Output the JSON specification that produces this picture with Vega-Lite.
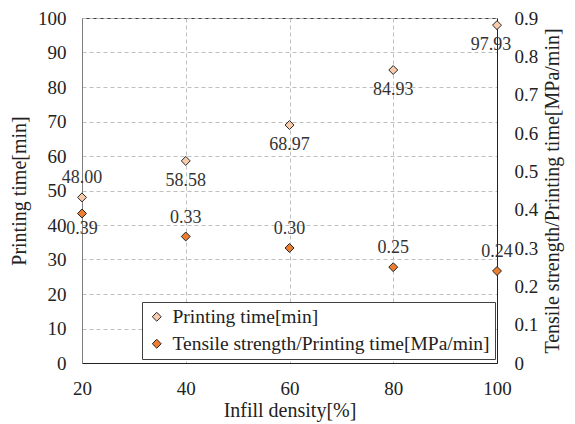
{
  "$schema": "https://vega.github.io/schema/vega-lite/v6.json",
  "width": 415,
  "height": 345,
  "autosize": {"type": "none"},
  "padding": {"left": 82, "top": 18, "right": 78, "bottom": 61},
  "background": "white",
  "config": {
    "font": "Liberation Serif",
    "view": {"stroke": "#404040", "strokeWidth": 1},
    "text": {"font": "Liberation Serif"},
    "axis": {
      "labelFont": "Liberation Serif",
      "titleFont": "Liberation Serif",
      "labelFontSize": 19,
      "titleFontSize": 20,
      "titleFontWeight": "normal",
      "labelColor": "#222",
      "titleColor": "#222",
      "ticks": false,
      "domainColor": "#595959",
      "gridColor": "#bfbfbf",
      "gridDash": [4, 3]
    }
  },
  "data": {
    "values": [
      {"density": 20, "series": "Printing time[min]", "value": 48.00},
      {"density": 40, "series": "Printing time[min]", "value": 58.58},
      {"density": 60, "series": "Printing time[min]", "value": 68.97},
      {"density": 80, "series": "Printing time[min]", "value": 84.93},
      {"density": 100, "series": "Printing time[min]", "value": 97.93},
      {"density": 20, "series": "Tensile strength/Printing time[MPa/min]", "value": 0.39},
      {"density": 40, "series": "Tensile strength/Printing time[MPa/min]", "value": 0.33},
      {"density": 60, "series": "Tensile strength/Printing time[MPa/min]", "value": 0.30},
      {"density": 80, "series": "Tensile strength/Printing time[MPa/min]", "value": 0.25},
      {"density": 100, "series": "Tensile strength/Printing time[MPa/min]", "value": 0.24}
    ]
  },
  "encoding": {
    "x": {
      "field": "density",
      "type": "quantitative",
      "scale": {"domain": [20, 100], "nice": false},
      "axis": {
        "title": "Infill density[%]",
        "values": [20, 40, 60, 80, 100],
        "labelFlush": false,
        "labelPadding": 16,
        "titlePadding": 2,
        "domainColor": "#222"
      }
    }
  },
  "layer": [
    {
      "transform": [{"filter": "datum.series == 'Printing time[min]'"}],
      "encoding": {
        "y": {
          "field": "value",
          "type": "quantitative",
          "scale": {"domain": [0, 100], "nice": false},
          "axis": {
            "title": "Printing time[min]",
            "values": [0, 10, 20, 30, 40, 50, 60, 70, 80, 90, 100],
            "labelPadding": 16,
            "titlePadding": 8,
            "labelFlush": false,
            "domainColor": "#7f7f7f",
            "orient": "left"
          }
        }
      },
      "layer": [
        {
          "mark": {"type": "point", "shape": "diamond", "filled": true, "size": 80, "stroke": "#262626", "strokeWidth": 1, "opacity": 1},
          "encoding": {
            "fill": {
              "field": "series",
              "type": "nominal",
              "scale": {
                "domain": ["Printing time[min]", "Tensile strength/Printing time[MPa/min]"],
                "range": ["#F8CBAD", "#ED7D31"]
              },
              "legend": {
                "title": null,
                "orient": "none",
                "legendX": 60,
                "legendY": 284,
                "symbolType": "diamond",
                "symbolSize": 80,
                "symbolStrokeColor": "#262626",
                "symbolStrokeWidth": 1,
                "symbolOpacity": 1,
                "labelFont": "Liberation Serif",
                "labelFontSize": 19.5,
                "labelColor": "#222",
                "labelLimit": 400,
                "rowPadding": 6,
                "padding": 5,
                "strokeColor": "#404040",
                "fillColor": "white",
                "labelOffset": 6
              }
            }
          }
        },
        {
          "transform": [{"filter": "datum.density == 20"}],
          "mark": {"type": "text", "fontSize": 18, "dy": -19, "color": "#333"},
          "encoding": {"text": {"field": "value", "type": "quantitative", "format": ".2f"}}
        },
        {
          "transform": [{"filter": "datum.density != 20 && datum.density != 100"}],
          "mark": {"type": "text", "fontSize": 18, "dy": 20, "color": "#333"},
          "encoding": {"text": {"field": "value", "type": "quantitative", "format": ".2f"}}
        },
        {
          "transform": [{"filter": "datum.density == 100"}],
          "mark": {"type": "text", "fontSize": 18, "dy": 20, "dx": -6, "color": "#333"},
          "encoding": {"text": {"field": "value", "type": "quantitative", "format": ".2f"}}
        }
      ]
    },
    {
      "transform": [{"filter": "datum.series != 'Printing time[min]'"}],
      "encoding": {
        "y": {
          "field": "value",
          "type": "quantitative",
          "scale": {"domain": [0, 0.9], "nice": false},
          "axis": {
            "title": "Tensile strength/Printing time[MPa/min]",
            "orient": "right",
            "values": [0, 0.1, 0.2, 0.3, 0.4, 0.5, 0.6, 0.7, 0.8, 0.9],
            "labelExpr": "datum.value == 0 ? '0' : format(datum.value, '.1f')",
            "labelPadding": 17,
            "labelFlush": false,
            "titlePadding": 5,
            "titleAngle": 270,
            "titleBaseline": "top",
            "grid": false,
            "domainColor": "#222"
          }
        }
      },
      "layer": [
        {
          "mark": {"type": "point", "shape": "diamond", "filled": true, "size": 80, "stroke": "#262626", "strokeWidth": 1, "opacity": 1},
          "encoding": {
            "fill": {"field": "series", "type": "nominal"}
          }
        },
        {
          "transform": [{"filter": "datum.density == 20"}],
          "mark": {"type": "text", "fontSize": 18, "dy": 15, "color": "#333"},
          "encoding": {"text": {"field": "value", "type": "quantitative", "format": ".2f"}}
        },
        {
          "transform": [{"filter": "datum.density != 20"}],
          "mark": {"type": "text", "fontSize": 18, "dy": -19, "color": "#333"},
          "encoding": {"text": {"field": "value", "type": "quantitative", "format": ".2f"}}
        }
      ]
    }
  ],
  "resolve": {"scale": {"y": "independent", "fill": "shared"}, "axis": {"y": "independent"}}
}
